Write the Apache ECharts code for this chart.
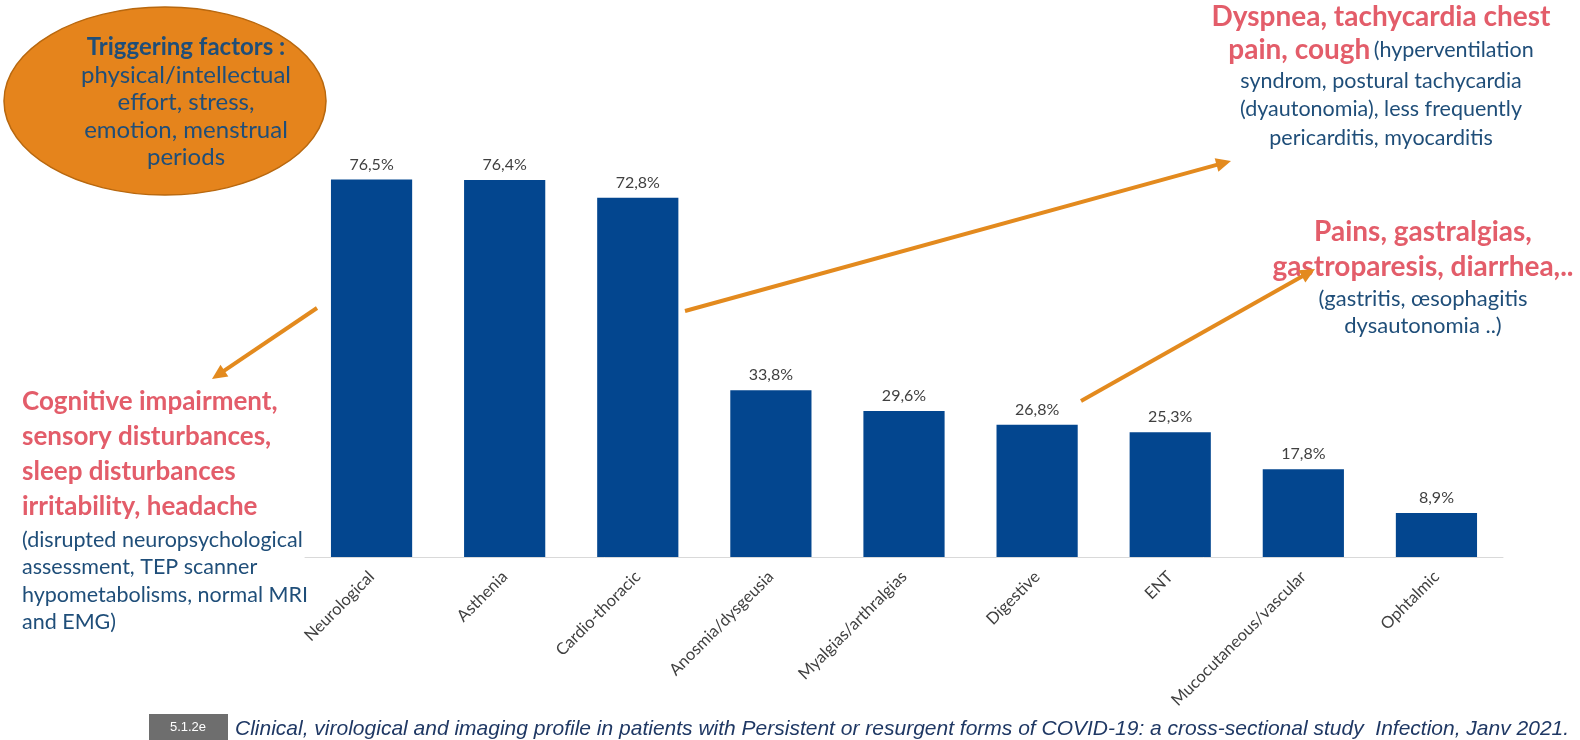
<!DOCTYPE html>
<html>
<head>
<meta charset="utf-8">
<script src="https://cdn.jsdelivr.net/npm/echarts@6/dist/echarts.min.js"></script>
<style>
html,body{margin:0;padding:0;background:#fff;}
#chart{width:1580px;height:740px;}
</style>
</head>
<body>
<div id="chart"></div>
<script>
const categories = ['Neurological','Asthenia','Cardio-thoracic','Anosmia/dysgeusia','Myalgias/arthralgias','Digestive','ENT','Mucocutaneous/vascular','Ophtalmic'];
const values = [76.5, 76.4, 72.8, 33.8, 29.6, 26.8, 25.3, 17.8, 8.9];

const ellipseLines = ['physical/intellectual','effort, stress,','emotion, menstrual','periods'];
const cardioLines = ['syndrom, postural tachycardia','(dyautonomia), less frequently','pericarditis, myocarditis'];
const digestiveRed = ['Pains, gastralgias,','gastroparesis, diarrhea,..'];
const digestiveBlue = ['(gastritis, œsophagitis','dysautonomia ..)'];
const neuroRed = ['Cognitive impairment,','sensory disturbances,','sleep disturbances','irritability, headache'];
const neuroBlue = ['(disrupted neuropsychological','assessment, TEP scanner','hypometabolisms, normal MRI','and EMG)'];
const citation = 'Clinical, virological and imaging profile in patients with Persistent or resurgent forms of COVID-19: a cross-sectional study  Infection, Janv 2021.';
const slideNo = '5.1.2e';

const FONT = 'Lato, "Open Sans", sans-serif';
const RED = '#E35D6A';
const BLUE = '#1F4E79';
const ORANGE = '#E38A1E';
const BAR = '#03468F';

function arrow(x1, y1, x2, y2) {
  const dx = x2 - x1, dy = y2 - y1;
  const len = Math.sqrt(dx*dx + dy*dy);
  const ux = dx/len, uy = dy/len;
  const hl = 15, hw = 7;
  const bx = x2 - ux*hl, by = y2 - uy*hl;
  return [
    {type:'line', shape:{x1:x1, y1:y1, x2:bx+ux*2, y2:by+uy*2}, style:{stroke:ORANGE, lineWidth:4}},
    {type:'polygon', shape:{points:[[x2,y2],[bx - uy*hw, by + ux*hw],[bx + uy*hw, by - ux*hw]]}, style:{fill:ORANGE}}
  ];
}

function txt(x, y, text, size, color, weight, align) {
  return {type:'text', x:x, y:y, style:{text:text, font: (weight||'normal') + ' ' + size + 'px ' + FONT, fill:color, textAlign: align||'center', textVerticalAlign:'middle'}};
}

const graphics = [];
graphics.push({type:'ellipse', shape:{cx:165, cy:101, rx:161, ry:94}, style:{fill:'#E5841C', stroke:'#B8680F', lineWidth:1.5}});
graphics.push(txt(186, 47, 'Triggering factors :', 24, BLUE, 'bold'));
ellipseLines.forEach((l,i)=>graphics.push(txt(186, 75 + i*27.5, l, 24, BLUE)));

graphics.push(txt(1381, 17, 'Dyspnea, tachycardia chest', 28, RED, 'bold'));
graphics.push({type:'text', x:1381, y:50, style:{
  text:'{r|pain, cough} {b|(hyperventilation}',
  textAlign:'center', textVerticalAlign:'middle',
  rich:{ r:{fontFamily:FONT, fontSize:28, fontWeight:'bold', fill:RED, color:RED}, b:{fontFamily:FONT, fontSize:21.5, fill:BLUE, color:BLUE} }
}});
cardioLines.forEach((l,i)=>graphics.push(txt(1381, 81 + i*28.5, l, 21.5, BLUE)));

digestiveRed.forEach((l,i)=>graphics.push(txt(1423, 232 + i*35, l, 28, RED, 'bold')));
digestiveBlue.forEach((l,i)=>graphics.push(txt(1423, 299 + i*27, l, 22, BLUE)));

neuroRed.forEach((l,i)=>graphics.push(txt(22, 402 + i*35, l, 26, RED, 'bold', 'left')));
neuroBlue.forEach((l,i)=>graphics.push(txt(22, 540 + i*27.5, l, 21.5, BLUE, 'normal', 'left')));

arrow(317, 308, 212, 379).forEach(g=>graphics.push(g));
arrow(685, 311, 1231, 161).forEach(g=>graphics.push(g));
arrow(1081, 401, 1315, 269).forEach(g=>graphics.push(g));

graphics.push({type:'rect', shape:{x:149, y:714, width:79, height:26}, style:{fill:'#6E6E6E'}});
graphics.push({type:'text', x:188, y:727, style:{text:slideNo, font:'13px "Liberation Sans", Arial, sans-serif', fill:'#fff', textAlign:'center', textVerticalAlign:'middle'}});
graphics.push({type:'text', x:235, y:729, style:{text:citation, font:'italic 21px "Liberation Sans", Arial, sans-serif', fill:'#1F3864', textAlign:'left', textVerticalAlign:'middle'}});

const chart = echarts.init(document.getElementById('chart'), null, {renderer:'canvas'});
chart.setOption({
  animation:false,
  backgroundColor:'#fff',
  grid:{left:305, right:77, top:113, bottom:183, containLabel:false},
  xAxis:{
    type:'category', data:categories,
    axisLine:{show:true, lineStyle:{color:'#D9D9D9', width:1}},
    axisTick:{show:false},
    axisLabel:{rotate:45, color:'#404040', fontSize:16.5, fontFamily:FONT, margin:17, interval:0}
  },
  yAxis:{type:'value', min:0, max:90, show:false, splitLine:{show:false}},
  series:[{
    type:'bar', data:values, barWidth:'61%',
    itemStyle:{color:BAR},
    label:{show:true, position:'top', distance:7, color:'#404040', fontSize:16, fontFamily:FONT,
      formatter:p=>p.value.toFixed(1).replace('.', ',') + '%'}
  }],
  graphic:graphics
});
</script>
</body>
</html>
